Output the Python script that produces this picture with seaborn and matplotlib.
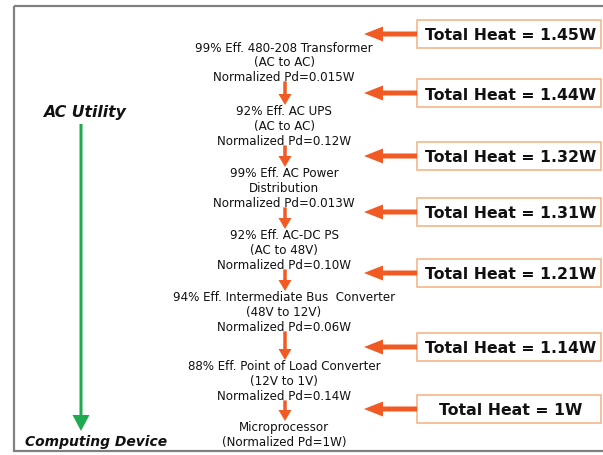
import matplotlib
matplotlib.use("Agg")
import matplotlib.pyplot as plt
import seaborn as sns
from matplotlib.patches import Rectangle

# =========================
# DATA
# =========================
heat_w = [1.45, 1.44, 1.32, 1.31, 1.21, 1.14, 1]
eff_pct = [99, 92, 99, 92, 94, 88]
stage_names = ["480-208 Transformer", "AC UPS", "AC Power", "AC-DC PS",
               "Intermediate Bus  Converter", "Point of Load Converter"]
stage_sub = ["(AC to AC)", "(AC to AC)", "Distribution", "(AC to 48V)",
             "(48V to 12V)", "(12V to 1V)"]
pd_w = ["0.015", "0.12", "0.013", "0.10", "0.06", "0.14"]
final_stage = ["Microprocessor", "(Normalized Pd=1W)"]
top_label = "AC Utility"
bottom_label = "Computing Device"

# =========================
# STYLE
# =========================
sns.set_theme(style="white")
plt.rcParams["font.family"] = ["DejaVu Sans"]

orange = "#f15a22"
box_edge = "#f5b58a"
green = "#1faa50"

fig = plt.figure(figsize=(6.03, 4.56), dpi=100)
ax = fig.add_axes([0, 0, 1, 1])
ax.set_xlim(0, 603)
ax.set_ylim(456, 0)
ax.axis("off")

# outer frame (right side runs off the picture)
ax.add_patch(Rectangle((14, 7), 640, 445, fill=False, ec="#808080", lw=1.6))

# =========================
# CENTER COLUMN
# =========================
cx = 284
block_top = [48, 112, 174, 236, 298, 367, 428]
line_gap = 14.7

blocks = []
for e, n, s, p in zip(eff_pct, stage_names, stage_sub, pd_w):
    blocks.append([f"{e}% Eff. {n}", s, f"Normalized Pd={p}W"])
blocks.append(final_stage)

for top, lines in zip(block_top, blocks):
    for i, t in enumerate(lines):
        ax.text(cx, top + i * line_gap, t, ha="center", va="center",
                fontsize=8.6, color="#111111")

# down arrows between blocks
for i in range(len(blocks) - 1):
    y0 = block_top[i] + (len(blocks[i]) - 1) * line_gap + 5
    y1 = block_top[i + 1] - 6
    ax.arrow(cx + 1, y0, 0, y1 - y0, width=3.5, head_width=13,
             head_length=11, length_includes_head=True, color=orange, lw=0)

# =========================
# HEAT BOXES
# =========================
box_cy = [35, 94, 157, 213, 274, 348, 410]
bx0, bx1, bh = 417, 601, 28
for cy, h in zip(box_cy, heat_w):
    ax.add_patch(Rectangle((bx0, cy - bh / 2), bx1 - bx0, bh, fill=True,
                           fc="white", ec=box_edge, lw=1.2))
    lab = f"{h:.2f}W" if h != 1 else "1W"
    ax.text((bx0 + bx1) / 2 + 2, cy + 1, f"Total Heat = {lab}", ha="center",
            va="center", fontsize=11.3, fontweight="bold", color="#111111")
    ax.arrow(bx0, cy, 364 - bx0, 0, width=5, head_width=15,
             head_length=19, length_includes_head=True, color=orange, lw=0)

# =========================
# SIDE LABELS + GREEN ARROW
# =========================
ax.text(84, 113, top_label, ha="center", va="center", fontsize=11.3,
        fontweight="bold", fontstyle="italic", color="#111111")
ax.text(96, 442, bottom_label, ha="center", va="center", fontsize=10,
        fontweight="bold", fontstyle="italic", color="#111111")
ax.arrow(81, 125, 0, 307, width=3, head_width=17, head_length=16,
         length_includes_head=True, color=green, lw=0)

fig.savefig("out.png", dpi=100)
